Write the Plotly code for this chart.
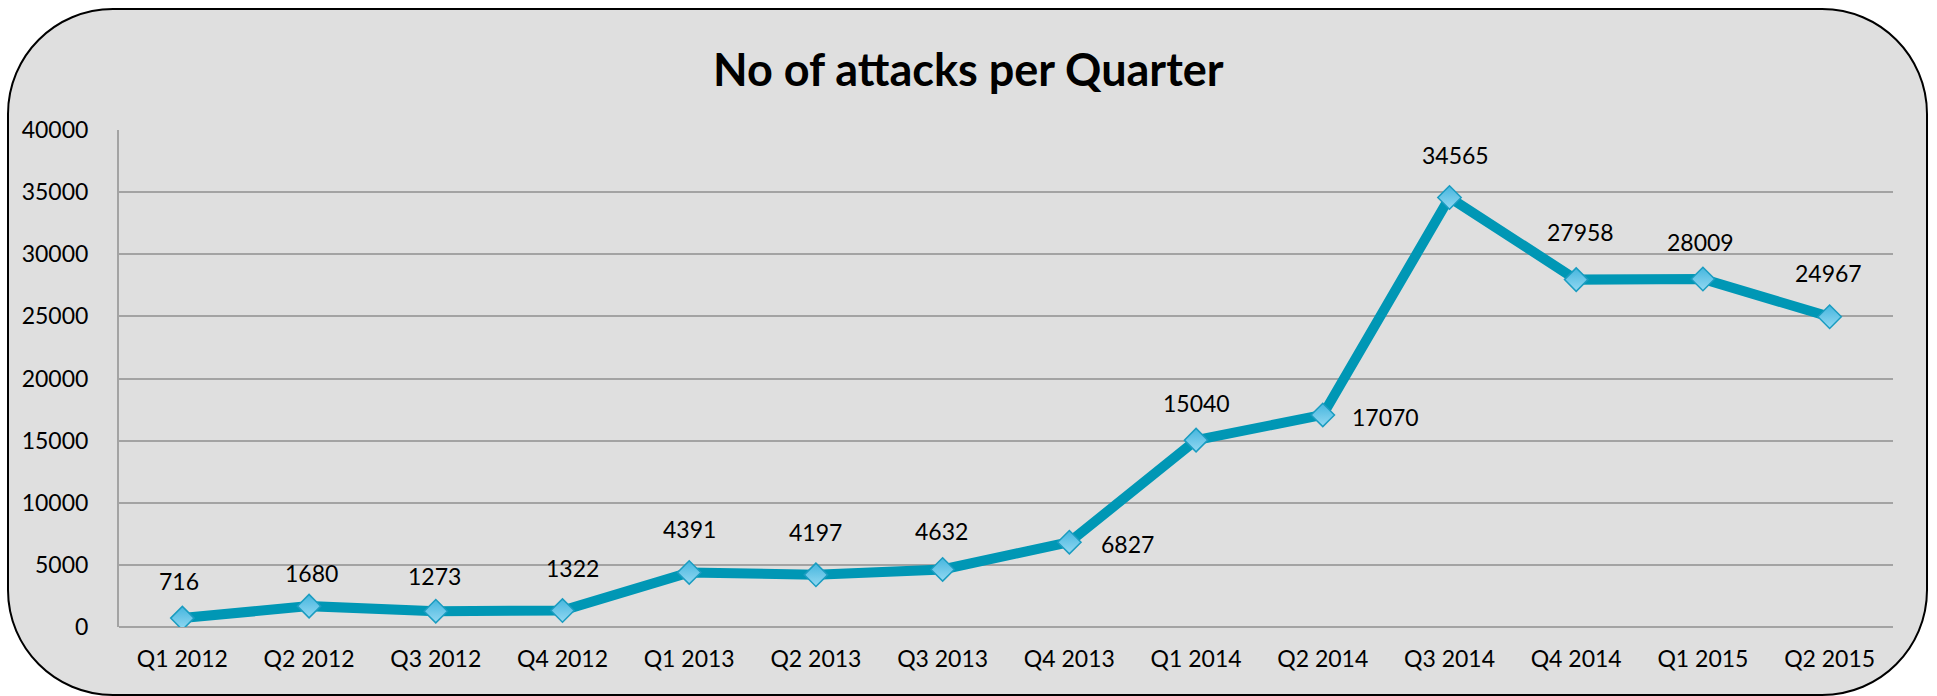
import plotly.graph_objects as go

# Quarterly attack counts
quarters = ["Q1 2012", "Q2 2012", "Q3 2012", "Q4 2012",
            "Q1 2013", "Q2 2013", "Q3 2013", "Q4 2013",
            "Q1 2014", "Q2 2014", "Q3 2014", "Q4 2014",
            "Q1 2015", "Q2 2015"]
attacks = [716, 1680, 1273, 1322,
           4391, 4197, 4632, 6827,
           15040, 17070, 34565, 27958,
           28009, 24967]
y_ticks = [0, 5000, 10000, 15000, 20000, 25000, 30000, 35000, 40000]

# label placement relative to each point (pixels: right, up)
label_offsets = [(-3, 37), (2, 33), (-1, 35), (10, 43),
                 (0, 43), (0, 43), (-1, 38), (58, -2),
                 (0, 37), (63, -2), (6, 43), (4, 48),
                 (-2, 37), (-1, 44)]

W, H = 1937, 696
L, R, T, B = 119, 44, 130, 69
PW, PH = W - L - R, H - T - B

FONT = "Lato"
LINE = "#0097b5"
GRID = "#a3a3a3"


def to_paper(px, py):
    return (px - L) / PW, (H - B - py) / PH


def rounded_rect(x0, y0, x1, y1, r):
    k = 0.5523 * r

    def P(x, y):
        a, b = to_paper(x, y)
        return f"{a:.5f},{b:.5f}"

    d = f"M {P(x0 + r, y0)} L {P(x1 - r, y0)} "
    d += f"C {P(x1 - r + k, y0)} {P(x1, y0 + r - k)} {P(x1, y0 + r)} "
    d += f"L {P(x1, y1 - r)} "
    d += f"C {P(x1, y1 - r + k)} {P(x1 - r + k, y1)} {P(x1 - r, y1)} "
    d += f"L {P(x0 + r, y1)} "
    d += f"C {P(x0 + r - k, y1)} {P(x0, y1 - r + k)} {P(x0, y1 - r)} "
    d += f"L {P(x0, y0 + r)} "
    d += f"C {P(x0, y0 + r - k)} {P(x0 + r - k, y0)} {P(x0 + r, y0)} Z"
    return d


fig = go.Figure()
fig.add_trace(go.Scatter(
    x=quarters, y=attacks, mode="lines+markers",
    line=dict(color=LINE, width=10),
    marker=dict(symbol="diamond", size=18, color="#45b6de",
                gradient=dict(type="vertical", color="#93d8f2"),
                line=dict(color="#1a9cc0", width=1.5)),
    hoverinfo="x+y", showlegend=False,
))

annotations = []
for q, v, (dx, dy) in zip(quarters, attacks, label_offsets):
    annotations.append(dict(
        x=q, y=v, xref="x", yref="y", text=str(v), showarrow=False,
        xshift=dx, yshift=dy, xanchor="center", yanchor="middle",
        font=dict(family=FONT, size=23, color="black"),
    ))

tx, ty = to_paper(968, 69)
annotations.append(dict(
    x=tx, y=ty, xref="paper", yref="paper", showarrow=False,
    text="<b>No of attacks per Quarter</b>", xanchor="center", yanchor="middle",
    font=dict(family=FONT, size=45, color="black"),
))

fig.update_layout(
    width=W, height=H, autosize=False,
    margin=dict(l=L, r=R, t=T, b=B, pad=0),
    paper_bgcolor="white", plot_bgcolor="rgba(0,0,0,0)",
    font=dict(family=FONT, size=23, color="black"),
    annotations=annotations,
    shapes=[dict(
        type="path", xref="paper", yref="paper", layer="below",
        path=rounded_rect(8, 9, 1927, 695, 105),
        fillcolor="#dfdfdf", line=dict(color="black", width=2),
    )],
    xaxis=dict(
        type="category", range=[-0.5, len(quarters) - 0.5],
        showgrid=False, zeroline=False, showline=False,
        ticks="", ticklabelstandoff=16,
        tickfont=dict(family=FONT, size=23, color="black"),
        fixedrange=True,
    ),
    yaxis=dict(
        range=[0, 40000], tickvals=y_ticks,
        ticktext=[str(t) for t in y_ticks],
        showgrid=True, gridcolor=GRID, gridwidth=2,
        zeroline=True, zerolinecolor=GRID, zerolinewidth=2,
        showline=True, linecolor=GRID, linewidth=2,
        ticks="", ticklabelstandoff=24,
        tickfont=dict(family=FONT, size=23, color="black"),
        fixedrange=True,
    ),
)

fig.write_html("out.html")
